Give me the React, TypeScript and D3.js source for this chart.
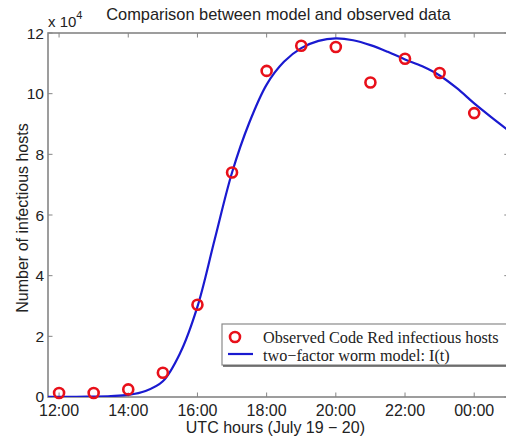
import React from "react";
import * as d3 from "d3";

const title = "Comparison between model and observed data";
const xLabel = "UTC hours (July 19 \u2212 20)";
const yLabel = "Number of infectious hosts";
const legendLabels = ["Observed Code Red infectious hosts", "two\u2212factor worm model: I(t)"];

// hours since midnight July 19 (24 = 00:00 July 20), values in units of 10^4
const obsHours = [12, 13, 14, 15, 16, 17, 18, 19, 20, 21, 22, 23, 24];
const obsValues = [0.13, 0.13, 0.25, 0.8, 3.04, 7.4, 10.75, 11.58, 11.54, 10.37, 11.15, 10.68, 9.36];

const modelHours = [11.68, 12, 12.5, 13, 13.5, 14, 14.5, 15, 15.5, 16, 16.5, 17, 17.5, 18, 18.5, 19, 19.5, 20, 20.5, 21, 21.5, 22, 22.5, 23, 23.5, 24, 24.5, 25];
const modelValues = [0.003, 0.005, 0.008, 0.014, 0.03, 0.07, 0.2, 0.52, 1.45, 2.98, 5.2, 7.4, 9.05, 10.3, 11.05, 11.5, 11.74, 11.82, 11.76, 11.6, 11.38, 11.13, 10.9, 10.6, 10.18, 9.68, 9.22, 8.78];

const xTickHours = [12, 14, 16, 18, 20, 22, 24];
const xTickLabels = ["12:00", "14:00", "16:00", "18:00", "20:00", "22:00", "00:00"];
const yTicks = [0, 2, 4, 6, 8, 10, 12];

const W = 506;
const H = 436;
const left = 48;
const right = 508.8;
const top = 33;
const bottom = 397;
const xMin = 11.68;
const xMax = 25;

export default function App() {
  const x = d3.scaleLinear().domain([xMin, xMax]).range([left, right]);
  const y = d3.scaleLinear().domain([0, 12]).range([bottom, top]);
  const line = d3
    .line<number>()
    .x((_, i) => x(modelHours[i]))
    .y((d) => y(d))
    .curve(d3.curveCatmullRom.alpha(0.5));
  const sans = "Liberation Sans, Arial, sans-serif";
  const serif = "Liberation Serif, Times New Roman, serif";
  const axisColor = "#858585";
  const tickLen = 4.5;
  const red = "#e8101a";
  const blue = "#1a1ad0";

  const lgX = 222;
  const lgY = 324;
  const lgW = 292;
  const lgH = 41;

  return (
    <svg width={W} height={H} style={{ position: "absolute", left: 0, top: 0, background: "#fff" }}>
      <defs>
        <clipPath id="plotClip">
          <rect x={left} y={top} width={right - left} height={bottom - top} />
        </clipPath>
      </defs>
      <rect x={0} y={0} width={W} height={H} fill="#fff" />
      {/* title */}
      <text x={(left + right) / 2} y={20} textAnchor="middle" fontFamily={sans} fontSize={16.4} fill="#222">
        {title}
      </text>
      {/* frame */}
      <rect x={left} y={top} width={right - left} height={bottom - top} fill="none" stroke={axisColor} strokeWidth={1.6} />
      {/* x ticks */}
      {xTickHours.map((h, i) => (
        <g key={"xt" + h}>
          <line x1={x(h)} x2={x(h)} y1={bottom} y2={bottom - tickLen} stroke={axisColor} strokeWidth={1} />
          <line x1={x(h)} x2={x(h)} y1={top} y2={top + tickLen} stroke={axisColor} strokeWidth={1} />
          <text x={x(h)} y={416} textAnchor="middle" fontFamily={sans} fontSize={16} fill="#222">
            {xTickLabels[i]}
          </text>
        </g>
      ))}
      {/* y ticks */}
      {yTicks.map((v) => (
        <g key={"yt" + v}>
          <line x1={left} x2={left + tickLen} y1={y(v)} y2={y(v)} stroke={axisColor} strokeWidth={1} />
          <line x1={right} x2={right - tickLen} y1={y(v)} y2={y(v)} stroke={axisColor} strokeWidth={1} />
          <text x={44} y={v === 0 ? y(v) - 1 : y(v)} dy="0.36em" textAnchor="end" fontFamily={sans} fontSize={15.5} fill="#222">
            {v}
          </text>
        </g>
      ))}
      {/* exponent */}
      <text x={48} y={27} fontFamily={sans} fontSize={15} fill="#222">
        x 10
        <tspan dy={-8} fontSize={11}>4</tspan>
      </text>
      {/* axis labels */}
      <text x={(left + right) / 2 - 3} y={433} textAnchor="middle" fontFamily={sans} fontSize={16} fill="#222">
        {xLabel}
      </text>
      <text
        transform={`translate(28, ${(top + bottom) / 2 + 3}) rotate(-90)`}
        textAnchor="middle"
        fontFamily={sans}
        fontSize={16}
        fill="#222"
      >
        {yLabel}
      </text>
      {/* model curve */}
      <g clipPath="url(#plotClip)">
        <path d={line(modelValues) || ""} fill="none" stroke={blue} strokeWidth={2.2} />
      </g>
      {/* observed points */}
      {obsHours.map((h, i) => (
        <circle key={"o" + h} cx={x(h)} cy={y(obsValues[i])} r={5} fill="none" stroke={red} strokeWidth={2.6} />
      ))}
      {/* legend */}
      <g>
        <rect x={lgX} y={lgY} width={lgW} height={lgH} fill="#fff" stroke="#8a8a8a" strokeWidth={1.2} />
        <line x1={lgX + 1} x2={lgX + lgW} y1={lgY + lgH + 1} y2={lgY + lgH + 1} stroke="#555" strokeWidth={1.6} />
        <circle cx={235} cy={337} r={5} fill="none" stroke={red} strokeWidth={2.6} />
        <line x1={228} x2={253} y1={354} y2={354} stroke={blue} strokeWidth={2.2} />
        <text x={263} y={343} fontFamily={serif} fontSize={16.2} fill="#222">
          {legendLabels[0]}
        </text>
        <text x={263} y={360.5} fontFamily={serif} fontSize={16.2} fill="#222">
          {legendLabels[1]}
        </text>
      </g>
    </svg>
  );
}
